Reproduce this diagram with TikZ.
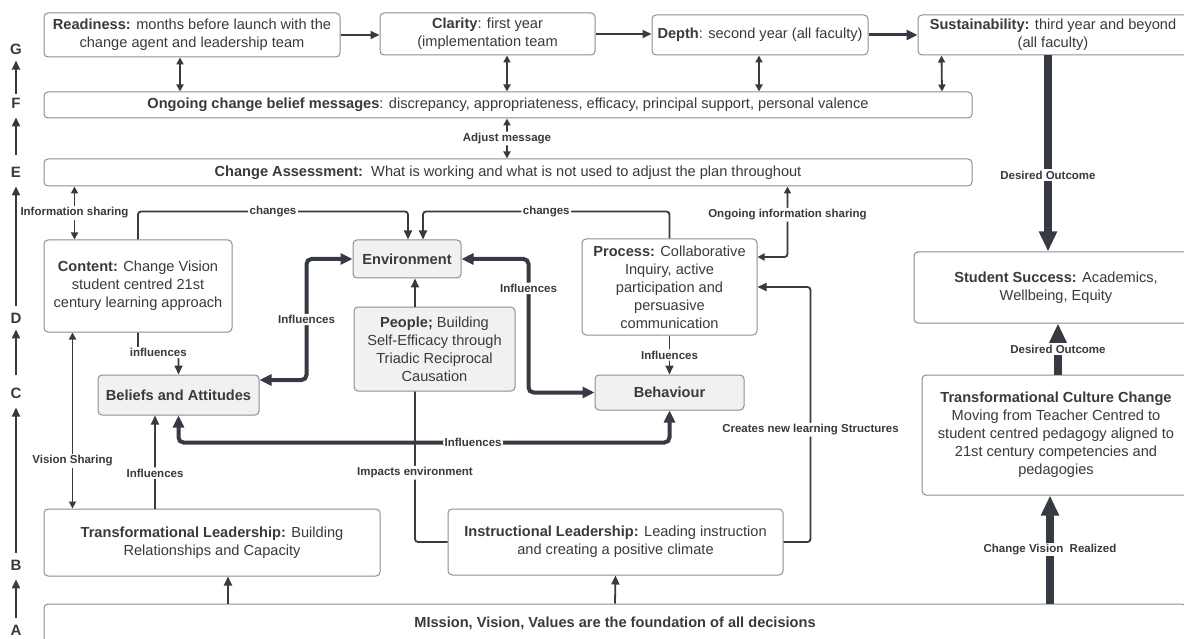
\documentclass[tikz,border=0pt]{standalone}
\usepackage{fontspec}
\setmainfont{Liberation Sans}
\usetikzlibrary{arrows.meta, calc}

\definecolor{linegray}{HTML}{363B43}
\definecolor{boxgray}{HTML}{8E8E8E}
\definecolor{txtgray}{HTML}{3A3A3A}
\definecolor{boxfill}{HTML}{EFF1F3}

\newcommand{\boxfont}{\fontsize{14.6}{18}\selectfont}
\newcommand{\lblfont}{\fontsize{11.5}{13}\selectfont\bfseries}

\tikzset{
  box/.style={draw=boxgray, line width=1pt, rounded corners=4pt, fill=white, text=txtgray, font=\boxfont, align=center, inner sep=0pt},
  grbox/.style={box, fill=boxfill},
  lbl/.style={fill=white, text=txtgray, font=\lblfont, inner sep=1.5pt},
  letter/.style={text=txtgray, font=\fontsize{15}{15}\selectfont\bfseries, inner sep=0pt},
  conn/.style={draw=linegray, line width=1.8pt, rounded corners=3pt},
  mconn/.style={draw=linegray, line width=3pt},
  tconn/.style={draw=linegray, line width=4pt, rounded corners=5pt},
  bconn/.style={draw=linegray, line width=7.5pt},
  arr/.style={-{Triangle[length=9pt,width=8pt]}},
  sdarr/.style={{Triangle[length=7pt,width=7pt]}-{Triangle[length=7pt,width=7pt]}},
  marr/.style={-{Triangle[length=11pt,width=10pt]}},
  tdarr/.style={{Triangle[length=12pt,width=11pt]}-{Triangle[length=12pt,width=11pt]}},
  barr/.style={-{Triangle[length=20pt,width=17pt]}}
}

\begin{document}
\begin{tikzpicture}[x=1pt,y=-1pt]
    \useasboundingbox (0,0) rectangle (1184,639);
    \fill[white] (0,0) rectangle (1184,639);

    % Level letters on the left
    \node[letter] (lG) at (16,49) {G};
    \node[letter] (lF) at (16,103) {F};
    \node[letter] (lE) at (16,172) {E};
    \node[letter] (lD) at (16,318) {D};
    \node[letter] (lC) at (16,393) {C};
    \node[letter] (lB) at (16,565) {B};
    \node[letter] (lA) at (16,630) {A};
    \draw[conn, arr, shorten <=7pt, shorten >=9pt] (lA) -- (lB);
    \draw[conn, arr, shorten <=7pt, shorten >=9pt] (lB) -- (lC);
    \draw[conn, arr, shorten <=12pt, shorten >=6pt] (lC) -- (lD);
    \draw[conn, arr, shorten <=7pt, shorten >=9pt] (lD) -- (lE);
    \draw[conn, arr, shorten <=12pt, shorten >=9pt] (lE) -- (lF);
    \draw[conn, arr, shorten <=4pt, shorten >=6pt] (lF) -- (lG);

    % Phases along the top
    \node[box, minimum width=296, minimum height=44] (ready) at (192,35) {\textbf{Readiness:} months before launch with the\\change agent and leadership team};
    \node[box, minimum width=215, minimum height=42] (clarity) at (487.5,34) {\textbf{Clarity}: first year\\(implementation team};
    \node[box, minimum width=216, minimum height=40] (depth) at (760,35) {\textbf{Depth}: second year (all faculty)};
    \node[box, minimum width=270, minimum height=40] (sustain) at (1053,35) {\textbf{Sustainability:} third year and beyond\\(all faculty)};

    % Messages and assessment bars
    \node[box, minimum width=928, minimum height=26] (belief) at (508,105) {\textbf{Ongoing change belief messages}: discrepancy, appropriateness, efficacy, principal support, personal valence};
    \node[box, minimum width=928, minimum height=27] (assess) at (508,172.5) {\textbf{Change Assessment:}\ \ What is working and what is not used to adjust the plan throughout};

    % Middle boxes
    \node[box, minimum width=188, minimum height=92] (content) at (138,286) {\textbf{Content:} Change Vision\\student centred 21st\\century learning approach};
    \node[grbox, minimum width=108, minimum height=38] (env) at (407,259) {\textbf{Environment}};
    \node[grbox, minimum width=161, minimum height=84] (people) at (434.5,349) {\textbf{People;} Building\\Self-Efficacy through\\Triadic Reciprocal\\Causation};
    \node[box, minimum width=175, minimum height=96] (process) at (669.5,287) {\textbf{Process:} Collaborative\\Inquiry, active\\participation and\\persuasive\\communication};
    \node[grbox, minimum width=161, minimum height=40] (beliefs) at (178.5,395) {\textbf{Beliefs and Attitudes}};
    \node[grbox, minimum width=149, minimum height=35] (behav) at (669.5,392.5) {\textbf{Behaviour}};

    % Right column
    \node[box, minimum width=284, minimum height=71] (success) at (1056,287.5) {\textbf{Student Success:} Academics,\\Wellbeing, Equity};
    \node[box, minimum width=268, minimum height=120] (culture) at (1056,435) {\textbf{Transformational Culture Change}\\Moving from Teacher Centred to\\student centred pedagogy aligned to\\21st century competencies and\\pedagogies};

    % Leadership and foundation
    \node[box, minimum width=336, minimum height=67] (tlead) at (212,542.5) {\textbf{Transformational Leadership:} Building\\Relationships and Capacity};
    \node[box, minimum width=335, minimum height=66] (ilead) at (615.5,542) {\textbf{Instructional Leadership:} Leading instruction\\and creating a positive climate};
    \node[box, font=\boxfont\bfseries, minimum width=1142, minimum height=38] (mission) at (615,623) {MIssion, Vision, Values are the foundation of all decisions};

    % Phase sequence
    \draw[conn, arr] (ready.east) -- (ready.east -| clarity.west);
    \draw[conn, arr] (clarity.east) -- (clarity.east -| depth.west);
    \draw[mconn, marr] (depth.east) -- (depth.east -| sustain.west);

    % Phases <-> messages
    \draw[conn, sdarr] ([xshift=-12pt]ready.south) -- ([xshift=-328pt]belief.north);
    \draw[conn, sdarr] ([xshift=19.5pt]clarity.south) -- ([xshift=-1pt]belief.north);
    \draw[conn, sdarr] ([xshift=-1pt]depth.south) -- ([xshift=251pt]belief.north);
    \draw[conn, sdarr] ([xshift=24pt]sustain.south west) -- ([xshift=434pt]belief.north);
    \draw[conn, sdarr] ([xshift=-1pt]belief.south) -- ([xshift=-1pt]assess.north) node[lbl, midway] {Adjust message};
    \draw[conn, sdarr] ([xshift=31pt]assess.south west) -- ([xshift=31pt]content.north west) node[lbl, midway] {Information sharing};

    % Triadic causation
    \draw[conn, arr] (content.north) -- ++(0,-28) -| ([xshift=1pt]env.north) node[lbl, pos=0.25] {changes};
    \draw[conn, arr] (process.north) -- ++(0,-27) -| ([xshift=16pt]env.north) node[lbl, pos=0.25] {changes};
    \draw[conn, sdarr] ([yshift=30pt]process.east) -| ([xshift=-185pt]assess.south east) node[lbl, pos=0.8] {Ongoing information sharing};
    \draw[conn, arr] ([xshift=-19.5pt]people.north) -- ([xshift=8pt]env.south);
    \draw[tconn, tdarr] ([yshift=15pt]beliefs.east) -- ++(47,0) |- (env.west) node[lbl, pos=0.25] {Influences};
    \draw[tconn, tdarr] (env.east) -- ++(67,0) |- (behav.west) node[lbl, pos=0.11] {Influences};
    \draw[tconn, tdarr] (beliefs.south) -- ++(0,27) -| (behav.south) node[lbl, pos=0.3] {Influences};
    \draw[conn, arr] (content.south) -- ++(0,20) -| (beliefs.north) node[lbl, pos=0.25] {influences};
    \draw[conn, arr] (process.south) -- (behav.north) node[lbl, midway] {Influences};

    % Leadership links
    \draw[conn, sdarr] ([xshift=29pt]content.south west) -- ([xshift=29pt]tlead.north west) node[lbl, pos=0.73] {Vision Sharing};
    \draw[conn, arr] ([xshift=-57pt]tlead.north) -- ([xshift=-23.5pt]beliefs.south) node[lbl, pos=0.38] {Influences};
    \draw[conn] (ilead.west) -| ([xshift=-19.5pt]people.south) node[lbl, pos=0.73] {Impacts environment};
    \draw[conn, arr] (ilead.east) -- ++(27,0) |- (process.east) node[lbl, pos=0.22] {Creates new learning Structures};

    % Foundation and outcomes
    \draw[conn, arr] ([xshift=-387pt]mission.north) -- ([xshift=16pt]tlead.south);
    \draw[conn, arr] (mission.north) -- (ilead.south);
    \draw[bconn, barr] ([xshift=435pt]mission.north) -- ([xshift=-6pt]culture.south) node[lbl, midway] {Change Vision\ \ Realized};
    \draw[bconn, barr] ([xshift=2pt]culture.north) -- ([xshift=2pt]success.south) node[lbl, midway] {Desired Outcome};
    \draw[bconn, barr] ([xshift=-5pt]sustain.south) -- ([xshift=-8pt]success.north) node[lbl, pos=0.61] {Desired Outcome};
\end{tikzpicture}
\end{document}
